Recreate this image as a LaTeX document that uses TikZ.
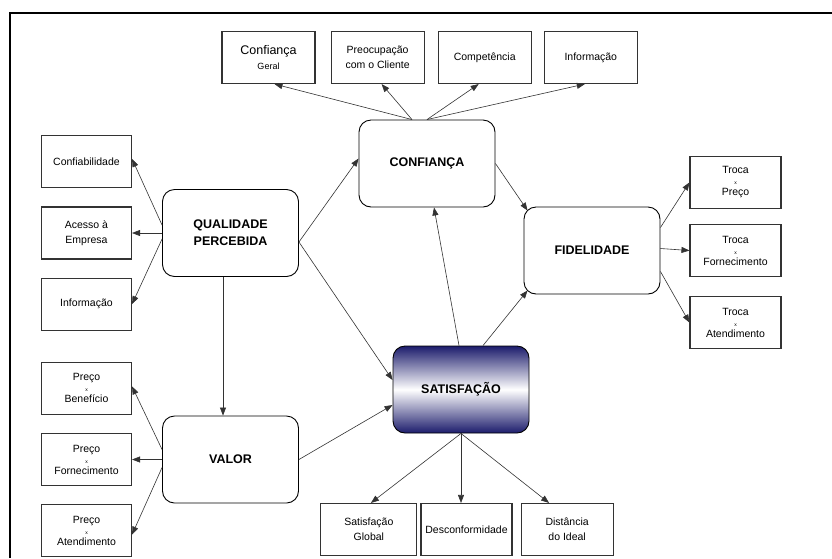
\documentclass[tikz,border=0pt]{standalone}
\usepackage{fontspec}
\setmainfont{Liberation Sans}
\usetikzlibrary{positioning, arrows.meta}
\definecolor{satnavy}{RGB}{28,28,108}
\tikzset{
  leaf/.style={rectangle, draw=black!80, line width=1.1pt, minimum width=91pt, minimum height=52pt, inner sep=1pt, align=center, font=\fontsize{10.5}{15}\selectfont},
  hub/.style={rectangle, rounded corners=12pt, draw, line width=0.9pt, minimum width=136pt, minimum height=87pt, align=center, font=\bfseries\fontsize{12.5}{17}\selectfont},
  arrow/.style={-{Triangle[length=8pt, width=6pt]}, draw=black!80, line width=0.6pt},
}

\begin{document}
\begin{tikzpicture}[x=1pt, y=-1pt]
  \tikzset{
    triple/.style={leaf, font=\fontsize{10.5}{11}\selectfont},
  }
  \useasboundingbox (0,0) rectangle (832,558);

  % Frame
  \draw[line width=1.8pt] (10,558) -- (10,13) -- (832,13);

  % Main constructs
  \node[hub] (confianca) at (427,163.5) {CONFIANÇA};
  \node[hub] (qualidade) at (230.5,233) {QUALIDADE\\PERCEBIDA};
  \node[hub] (valor) at (230.5,459.5) {VALOR};
  \node[hub, top color=satnavy, bottom color=satnavy, middle color=white] (satisfacao) at (461,389.5) {SATISFAÇÃO};
  \node[hub] (fidelidade) at (592,250.5) {FIDELIDADE};

  % Confianca items
  \node[leaf, minimum width=93pt] (geral) at (268.5,57.5) {{\fontsize{12.5}{15}\selectfont Confiança}\\{\fontsize{9}{12}\selectfont Geral}};
  \node[leaf, minimum width=93pt, right=15pt of geral] (preocupacao) {Preocupação\\com o Cliente};
  \node[leaf, minimum width=93pt, right=13pt of preocupacao] (competencia) {Competência};
  \node[leaf, minimum width=93pt, right=12pt of competencia] (informacaoA) {Informação};

  % Qualidade items
  \node[leaf, minimum width=90pt, left=30pt of qualidade] (acesso) {Acesso à\\Empresa};
  \node[leaf, minimum width=90pt, above=18pt of acesso] (confiabilidade) {Confiabilidade};
  \node[leaf, minimum width=90pt, below=18pt of acesso] (informacaoB) {Informação};

  % Valor items
  \node[triple, minimum width=90pt, left=30pt of valor] (precoforn) {Preço\\{\tiny x}\\Fornecimento};
  \node[triple, minimum width=90pt, above=18pt of precoforn] (precobenef) {Preço\\{\tiny x}\\Benefício};
  \node[triple, minimum width=90pt, below=18pt of precoforn] (precoatend) {Preço\\{\tiny x}\\Atendimento};

  % Fidelidade items
  \node[triple, right=29pt of fidelidade] (trocaforn) {Troca\\{\tiny x}\\Fornecimento};
  \node[triple, above=15pt of trocaforn] (trocapreco) {Troca\\{\tiny x}\\Preço};
  \node[triple, below=19pt of trocaforn] (trocaatend) {Troca\\{\tiny x}\\Atendimento};

  % Satisfacao items
  \node[leaf] (desconformidade) at (466.5,529.5) {Desconformidade};
  \node[leaf, minimum width=96pt, left=3pt of desconformidade] (global) {Satisfação\\Global};
  \node[leaf, minimum width=92pt, right=8pt of desconformidade] (distancia) {Distância\\do Ideal};

  % Arrows
  \draw[arrow] ([xshift=-15pt]confianca.north) -- ([xshift=6pt]geral.south);
  \draw[arrow] ([xshift=-15pt]confianca.north) -- ([xshift=4pt]preocupacao.south);
  \draw[arrow] (confianca.north) -- ([xshift=-6pt]competencia.south);
  \draw[arrow] (confianca.north) -- ([xshift=-6pt]informacaoA.south);

  \draw[arrow] ([yshift=8pt]qualidade.west) -- ([yshift=3pt]confiabilidade.east);
  \draw[arrow] (qualidade.west) -- (acesso.east);
  \draw[arrow] ([yshift=-6pt]qualidade.west) -- (informacaoB.east);

  \draw[arrow] ([yshift=10pt]valor.west) -- ([yshift=2pt]precobenef.east);
  \draw[arrow] (valor.west) -- (precoforn.east);
  \draw[arrow] ([yshift=-8pt]valor.west) -- ([yshift=-4pt]precoatend.east);

  \draw[arrow] ([yshift=23pt]fidelidade.east) -- (trocapreco.west);
  \draw[arrow] ([yshift=2pt]fidelidade.east) -- (trocaforn.west);
  \draw[arrow] ([yshift=-21pt]fidelidade.east) -- (trocaatend.west);

  \draw[arrow] (satisfacao.south) -- ([xshift=2pt]global.north);
  \draw[arrow] (satisfacao.south) -- ([xshift=-5.5pt]desconformidade.north);
  \draw[arrow] (satisfacao.south) -- ([xshift=-18pt]distancia.north);

  \draw[arrow] ([xshift=-7.5pt]qualidade.south) -- ([xshift=-7.5pt]valor.north);
  \draw[arrow] ([yshift=-9pt]qualidade.east) -- ([yshift=5pt]confianca.west);
  \draw[arrow] ([yshift=-9pt]qualidade.east) -- ([yshift=9.5pt]satisfacao.west);
  \draw[arrow] (valor.east) -- ([yshift=-15.5pt]satisfacao.west);
  \draw[arrow] ([xshift=-2pt]satisfacao.north) -- ([xshift=7pt]confianca.south);
  \draw[arrow] ([xshift=22pt]satisfacao.north) -- ([shift={(4pt,4pt)}]fidelidade.south west);
  \draw[arrow] (confianca.east) -- ([shift={(4pt,-4pt)}]fidelidade.north west);

\end{tikzpicture}
\end{document}
